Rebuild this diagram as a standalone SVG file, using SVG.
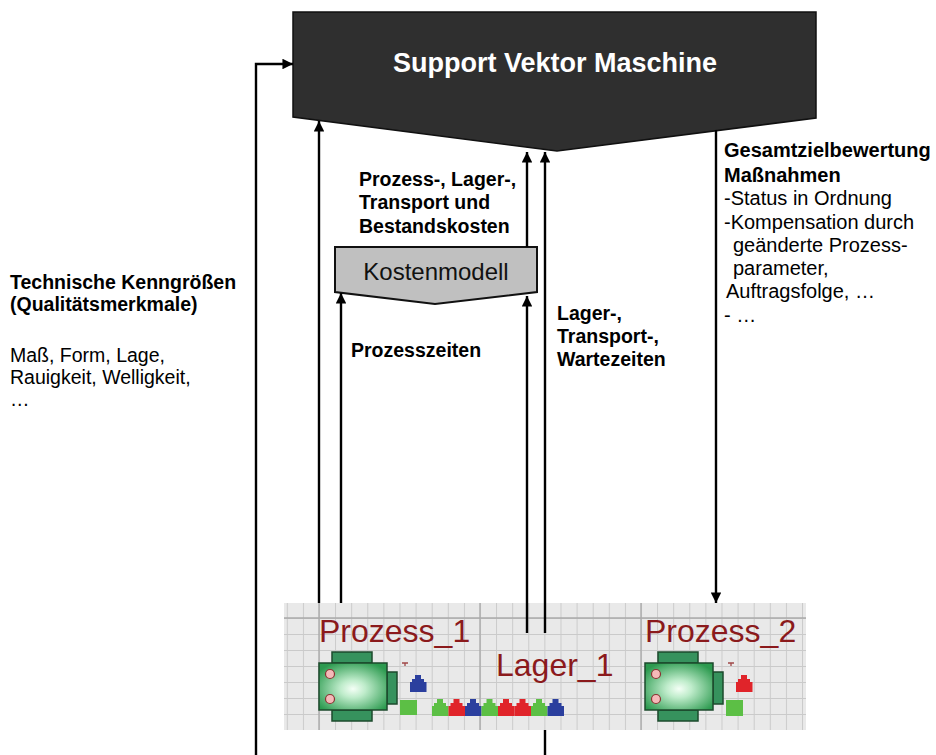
<svg xmlns="http://www.w3.org/2000/svg" xmlns:xlink="http://www.w3.org/1999/xlink" width="936" height="755" viewBox="0 0 936 755">
  <style>
    .lbl { font-family: "Liberation Sans", Arial, sans-serif; font-size: 19.5px; fill: #000; }
    .b { font-weight: bold; }
    .wide { font-size: 20px; }
    .conn { fill: none; stroke: #000; stroke-width: 2.4; }
    .sim { font-family: "Liberation Sans", Arial, sans-serif; font-size: 32px; fill: #8b1a1c; }
    .tab { fill: #36925d; stroke: #1c4a2c; stroke-width: 1.5; }
  </style>
  <defs>
    <marker id="arr" viewBox="0 0 10 10" refX="10" refY="5" markerWidth="4.8" markerHeight="4.4" orient="auto" markerUnits="strokeWidth">
      <path d="M0,0 L10,5 L0,10 Z" fill="#000"/>
    </marker>
    <pattern id="grid" x="319" y="602" width="16.1" height="16" patternUnits="userSpaceOnUse">
      <path d="M0.5,0 V16 M0,0.5 H16.1" stroke="#cacaca" stroke-width="1" fill="none"/>
    </pattern>
    <radialGradient id="body" cx="50%" cy="55%" r="62%">
      <stop offset="0" stop-color="#f4fff6"/>
      <stop offset="0.3" stop-color="#bfeccb"/>
      <stop offset="1" stop-color="#2c9a4f"/>
    </radialGradient>
    <symbol id="machineIcon" overflow="visible">
      <rect class="tab" x="13" y="0" width="40" height="11"/>
      <rect class="tab" x="13" y="58" width="40" height="11"/>
      <rect class="tab" x="68" y="20" width="10" height="32"/>
      <rect x="0" y="11" width="68" height="47" fill="url(#body)" stroke="#1c4a2c" stroke-width="1.5"/>
      <circle cx="11" cy="22" r="4.5" fill="#f5b9b9" stroke="#8a3232" stroke-width="1.2"/>
      <circle cx="11" cy="47" r="4.5" fill="#f5b9b9" stroke="#8a3232" stroke-width="1.2"/>
    </symbol>
    <path id="house" d="M0,17 V7 H2 V4 H5 V0 H11 V4 H14 V7 H16.5 V17 Z"/>
    <path id="tick" d="M-3,0 H3 M0,0 V3" stroke="#a04848" stroke-width="1.3" fill="none"/>
  </defs>

  <rect width="936" height="755" fill="#fff"/>

  <!-- Support vector machine block -->
  <g id="svm">
    <polygon points="293,12 816,12 816,118 557,151 293,117" fill="#2f2f2f" stroke="#111" stroke-width="1.5"/>
    <text x="555" y="72" text-anchor="middle" font-family="'Liberation Sans', Arial, sans-serif" font-size="27px" font-weight="bold" fill="#fff">Support Vektor Maschine</text>
  </g>

  <!-- Cost model block -->
  <g id="kostenmodell">
    <polygon points="335,247 537,247 537,292 435,304 335,292" fill="#c0c0c0" stroke="#111" stroke-width="2"/>
    <text x="436" y="280" text-anchor="middle" font-family="'Liberation Sans', Arial, sans-serif" font-size="24px" fill="#111">Kostenmodell</text>
  </g>

  <!-- Simulation model panel -->
  <g id="simulation">
    <rect x="284" y="603" width="522" height="127" fill="#e9e9e9"/>
    <rect x="284" y="603" width="522" height="127" fill="url(#grid)"/>
    <path d="M319,603 V730 M480,603 V730 M641,603 V730 M284,618 H806" stroke="#ababab" stroke-width="1.4" fill="none"/>
  </g>

  <g id="prozess1">
    <text class="sim" x="319" y="642">Prozess_1</text>
    <use xlink:href="#machineIcon" x="319" y="652"/>
    <use xlink:href="#tick" x="405" y="663"/>
    <use xlink:href="#house" x="410" y="675" fill="#2b3f9e"/>
    <rect x="400" y="700" width="17" height="15" fill="#5cbf45"/>
  </g>

  <g id="lager1">
    <text class="sim" x="496" y="676">Lager_1</text>
    <use xlink:href="#house" x="432" y="699" fill="#5cbf45"/>
    <use xlink:href="#house" x="448.5" y="699" fill="#e0242a"/>
    <use xlink:href="#house" x="465" y="699" fill="#2b3f9e"/>
    <use xlink:href="#house" x="481.5" y="699" fill="#5cbf45"/>
    <use xlink:href="#house" x="498" y="699" fill="#e0242a"/>
    <use xlink:href="#house" x="514.5" y="699" fill="#e0242a"/>
    <use xlink:href="#house" x="531" y="699" fill="#5cbf45"/>
    <use xlink:href="#house" x="547.5" y="699" fill="#2b3f9e"/>
  </g>

  <g id="prozess2">
    <text class="sim" x="645" y="642">Prozess_2</text>
    <use xlink:href="#machineIcon" x="645" y="652"/>
    <use xlink:href="#tick" x="731" y="663"/>
    <use xlink:href="#house" x="736" y="675" fill="#e0242a"/>
    <rect x="726" y="700" width="17" height="16" fill="#5cbf45"/>
  </g>

  <!-- Connectors -->
  <g id="connectors">
    <path class="conn" d="M256,755 V64 H293" marker-end="url(#arr)"/>
    <path class="conn" d="M319,603 V121" marker-end="url(#arr)"/>
    <path class="conn" d="M341,603 V293" marker-end="url(#arr)"/>
    <path class="conn" d="M527,633 V296" marker-end="url(#arr)"/>
    <path class="conn" d="M527,247 V152" marker-end="url(#arr)"/>
    <path class="conn" d="M545,633 V152" marker-end="url(#arr)"/>
    <path class="conn" d="M545,730 V755"/>
    <path class="conn" d="M716,130 V603" marker-end="url(#arr)"/>
  </g>

  <!-- Labels -->
  <g id="label-technik">
    <text class="lbl b" x="10" y="289">Technische Kenngrößen</text>
    <text class="lbl b" x="10" y="311">(Qualitätsmerkmale)</text>
    <text class="lbl" x="10" y="362">Maß, Form, Lage,</text>
    <text class="lbl" x="10" y="384">Rauigkeit, Welligkeit,</text>
    <text class="lbl" x="10" y="406">…</text>
  </g>

  <g id="label-kosten">
    <text class="lbl b" x="359" y="186">Prozess-, Lager-,</text>
    <text class="lbl b" x="359" y="209">Transport und</text>
    <text class="lbl b" x="359" y="233">Bestandskosten</text>
  </g>

  <g id="label-prozesszeiten">
    <text class="lbl b" x="351" y="357">Prozesszeiten</text>
  </g>

  <g id="label-wartezeiten">
    <text class="lbl b" x="557" y="320">Lager-,</text>
    <text class="lbl b" x="557" y="343">Transport-,</text>
    <text class="lbl b" x="557" y="366">Wartezeiten</text>
  </g>

  <g id="label-bewertung">
    <text class="lbl b wide" x="724" y="157">Gesamtzielbewertung</text>
    <text class="lbl b wide" x="724" y="182">Maßnahmen</text>
    <text class="lbl wide" x="724" y="205">-Status in Ordnung</text>
    <text class="lbl wide" x="724" y="229">-Kompensation durch</text>
    <text class="lbl wide" x="733" y="252">geänderte Prozess-</text>
    <text class="lbl wide" x="733" y="275">parameter,</text>
    <text class="lbl wide" x="726" y="298">Auftragsfolge, …</text>
    <text class="lbl wide" x="724" y="322">- …</text>
  </g>
</svg>
